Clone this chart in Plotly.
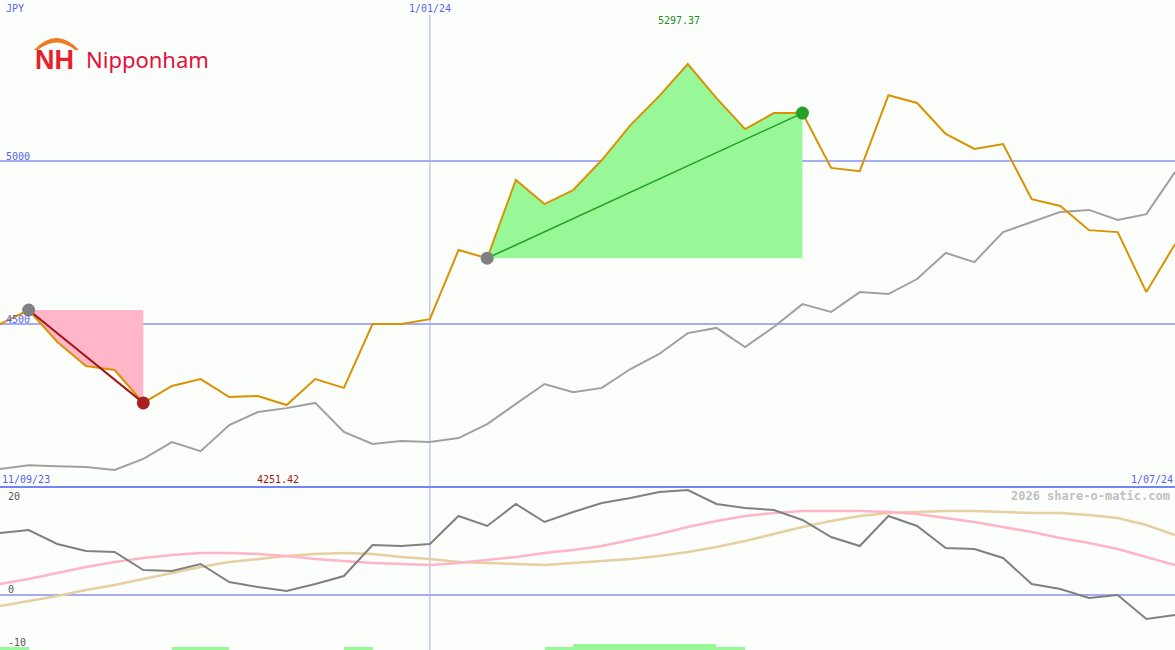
import pandas as pd
import plotly.graph_objects as go

# ---------------- data ----------------
dates = pd.date_range("2023-09-18", "2024-07-01", freq="7D")

price = [4500, 4543, 4445, 4371, 4359, 4258, 4310, 4331, 4276, 4279,
         4251.42, 4331, 4304, 4500, 4500, 4515, 4727, 4702, 4942, 4868,
         4911, 5003, 5110, 5199, 5297.37, 5193, 5098, 5147, 5147, 4979,
         4969, 5202, 5178, 5083, 5037, 5052, 4883, 4862, 4788, 4782,
         4598, 4745]

avg_line = [4055, 4067, 4064, 4061, 4052, 4086, 4138, 4110, 4190, 4230,
            4242, 4258, 4169, 4132, 4141, 4138, 4150, 4193, 4255, 4316,
            4291, 4304, 4362, 4408, 4472, 4488, 4429, 4491, 4561, 4537,
            4598, 4592, 4638, 4718, 4690, 4782, 4813, 4844, 4850, 4819,
            4837, 4966]

momentum = [12.4, 13.0, 10.2, 8.8, 8.6, 5.0, 4.8, 6.2, 2.6, 1.6,
            0.8, 2.2, 3.8, 10.0, 9.8, 10.2, 15.8, 13.8, 18.2, 14.6,
            16.6, 18.4, 19.4, 20.6, 21.0, 18.2, 17.4, 17.0, 15.0, 11.6,
            9.8, 15.8, 13.8, 9.4, 9.2, 7.4, 2.2, 1.2, -0.6, 0.0,
            -4.8, -4.0]

smooth_pink = [2.2, 3.2, 4.4, 5.6, 6.6, 7.4, 8.0, 8.4, 8.4, 8.2,
               7.8, 7.2, 6.8, 6.4, 6.2, 6.0, 6.4, 7.0, 7.6, 8.4,
               9.0, 9.8, 11.0, 12.2, 13.6, 14.8, 15.8, 16.4, 16.8, 16.8,
               16.8, 16.6, 16.2, 15.4, 14.6, 13.6, 12.6, 11.4, 10.4, 9.2,
               7.6, 6.0]

smooth_tan = [-2.2, -1.2, -0.2, 1.0, 2.0, 3.2, 4.4, 5.6, 6.6, 7.2,
              7.8, 8.2, 8.4, 8.2, 7.6, 7.2, 6.6, 6.4, 6.2, 6.0,
              6.4, 6.8, 7.2, 7.8, 8.6, 9.6, 10.8, 12.2, 13.6, 14.8,
              15.8, 16.4, 16.6, 16.8, 16.8, 16.6, 16.4, 16.4, 16.0, 15.4,
              14.0, 12.0]

# signal strength per weekly interval (0 none, 1 weak, 2 strong)
signal = [1, 0, 0, 0, 0, 0, 1, 1, 0, 0,
          0, 0, 1, 0, 0, 0, 0, 0, 0, 1,
          2, 2, 2, 2, 2, 1, 0, 0, 0, 0,
          0, 0, 0, 0, 0, 0, 0, 0, 0, 0, 0]

loss_start, loss_end = 1, 5      # falling period
gain_start, gain_end = 17, 28    # rising period

price_ticks = [5000, 4500]
osc_ticks = [20, 0, -10]
marker_dates = ["2024-01-01"]

# ---------------- figure ----------------
W, H = 1175, 650
SPLIT = 487  # pixel row of the panel divider
split_frac = 1 - SPLIT / H

def px(x):
    return x / W

def py(y):
    return 1 - y / H

fig = go.Figure()

ORANGE = "#d99200"
GREY = "#a0a0a0"
MONO = "DejaVu Sans Mono"

# pink loss area
xs = list(dates[loss_start:loss_end + 1])
ys = price[loss_start:loss_end + 1]
fig.add_trace(go.Scatter(
    x=xs + xs[::-1], y=ys + [price[loss_start]] * len(xs),
    fill="toself", fillcolor="#ffb6c8", line=dict(width=0),
    mode="lines", hoverinfo="skip", showlegend=False))

# green gain area
xs = list(dates[gain_start:gain_end + 1])
ys = price[gain_start:gain_end + 1]
fig.add_trace(go.Scatter(
    x=xs + xs[::-1], y=ys + [price[gain_start]] * len(xs),
    fill="toself", fillcolor="#98f898", line=dict(width=0),
    mode="lines", hoverinfo="skip", showlegend=False))

# grey average line
fig.add_trace(go.Scatter(x=dates, y=avg_line, mode="lines",
                         line=dict(color=GREY, width=2), showlegend=False))

# price line
fig.add_trace(go.Scatter(x=dates, y=price, mode="lines",
                         line=dict(color=ORANGE, width=2), showlegend=False))

# loss chord
fig.add_trace(go.Scatter(
    x=[dates[loss_start], dates[loss_end]], y=[price[loss_start], price[loss_end]],
    mode="lines", line=dict(color="#a01818", width=2), showlegend=False))
# gain chord
fig.add_trace(go.Scatter(
    x=[dates[gain_start], dates[gain_end]], y=[price[gain_start], price[gain_end]],
    mode="lines", line=dict(color="#20a020", width=1.5), showlegend=False))

# markers
fig.add_trace(go.Scatter(
    x=[dates[loss_start], dates[loss_end], dates[gain_start], dates[gain_end]],
    y=[price[loss_start], price[loss_end], price[gain_start], price[gain_end]],
    mode="markers",
    marker=dict(size=13, color=["#808080", "#a82020", "#808080", "#28a028"],
                opacity=1, line=dict(width=0)),
    opacity=1, showlegend=False))

# ---- lower panel ----
fig.add_trace(go.Bar(
    x=[d + pd.Timedelta(days=3.5) for d in dates[:-1]],
    y=[s * 0.6 for s in signal], base=-11,
    width=7 * 86400000, marker=dict(color="#98f898", line=dict(width=0)),
    yaxis="y2", showlegend=False))

fig.add_trace(go.Scatter(x=dates, y=smooth_tan, mode="lines", yaxis="y2",
                         line=dict(color="#e6cfa0", width=2.5), showlegend=False))
fig.add_trace(go.Scatter(x=dates, y=smooth_pink, mode="lines", yaxis="y2",
                         line=dict(color="#ffb4c8", width=2.5), showlegend=False))
fig.add_trace(go.Scatter(x=dates, y=momentum, mode="lines", yaxis="y2",
                         line=dict(color="#808080", width=2), showlegend=False))

shapes = []
# horizontal grid lines upper
for t in price_ticks:
    shapes.append(dict(type="line", xref="paper", x0=0, x1=1, yref="y", y0=t, y1=t,
                       line=dict(color="#a4acf4", width=2), layer="below"))
# zero line lower
shapes.append(dict(type="line", xref="paper", x0=0, x1=1, yref="y2", y0=0, y1=0,
                   line=dict(color="#a4acf4", width=2), layer="below"))
# panel divider
shapes.append(dict(type="line", xref="paper", x0=0, x1=1, yref="paper",
                   y0=split_frac, y1=split_frac, line=dict(color="#7484f4", width=2)))
# vertical date marker
for d in marker_dates:
    shapes.append(dict(type="line", xref="x", x0=d, x1=d, yref="paper",
                       y0=0, y1=py(15), line=dict(color="#a8b0e0", width=1), layer="below"))

# logo: orange arc over NH
shapes.append(dict(type="path", xref="paper", yref="paper",
                   path=(f"M {px(34)},{py(50)} Q {px(56.5)},{py(26)} {px(79)},{py(50)} "
                         f"L {px(75)},{py(50)} Q {px(56.5)},{py(35)} {px(38)},{py(50)} Z"),
                   fillcolor="#f07a20", line=dict(width=0)))

annotations = []

def label(text, x, y, color, anchor="left", size=10, bold=False, family=MONO):
    annotations.append(dict(
        text=f"<b>{text}</b>" if bold else text, xref="paper", yref="paper",
        x=px(x), y=py(y), xanchor=anchor, yanchor="middle", showarrow=False,
        font=dict(family=family, size=size, color=color)))

BLUE = "#5464ec"
label("JPY", 4, 8, BLUE)
for t, yy in zip(price_ticks, [156, 319]):
    label(str(t), 4, yy, BLUE)
label(dates[15].strftime("%-d/%m/%y"), 430, 8, BLUE, anchor="center")
label("11/09/23", 0, 479, BLUE)
label(dates[-1].strftime("%-d/%m/%y"), 1175, 479, BLUE, anchor="right")
label(f"{max(price):.2f}", 679, 21, "#209020", anchor="center")
label(f"{min(price):.2f}", 278, 479, "#a01818", anchor="center")
for t, yy in zip(osc_ticks, [496, 589, 642]):
    label(str(t), 6, yy, "#555555")
label("2026 share-o-matic.com", 1172, 496, "#c0c0c0", anchor="right", size=12, bold=True)
# logo text
label("NH", 33, 60, "#e8202c", size=27, bold=True, family="Liberation Sans")
label("Nipponham", 84, 59, "#e4103c", size=22, family="Noto Sans")

fig.update_layout(
    width=W, height=H, margin=dict(l=0, r=0, t=0, b=0),
    paper_bgcolor="#fcfefc", plot_bgcolor="#fcfefc",
    showlegend=False, bargap=0, hovermode=False,
    xaxis=dict(range=[dates[0], dates[-1]], showgrid=False, zeroline=False,
               showticklabels=False, fixedrange=True),
    yaxis=dict(domain=[split_frac, 1], range=[4000, 5494], showgrid=False,
               zeroline=False, showticklabels=False),
    yaxis2=dict(domain=[0, split_frac], range=[-11, 21.6], showgrid=False,
                zeroline=False, showticklabels=False),
    shapes=shapes, annotations=annotations,
)

fig.write_html("out.html", config={"displayModeBar": False},
               post_script="document.body.style.margin='0';")
